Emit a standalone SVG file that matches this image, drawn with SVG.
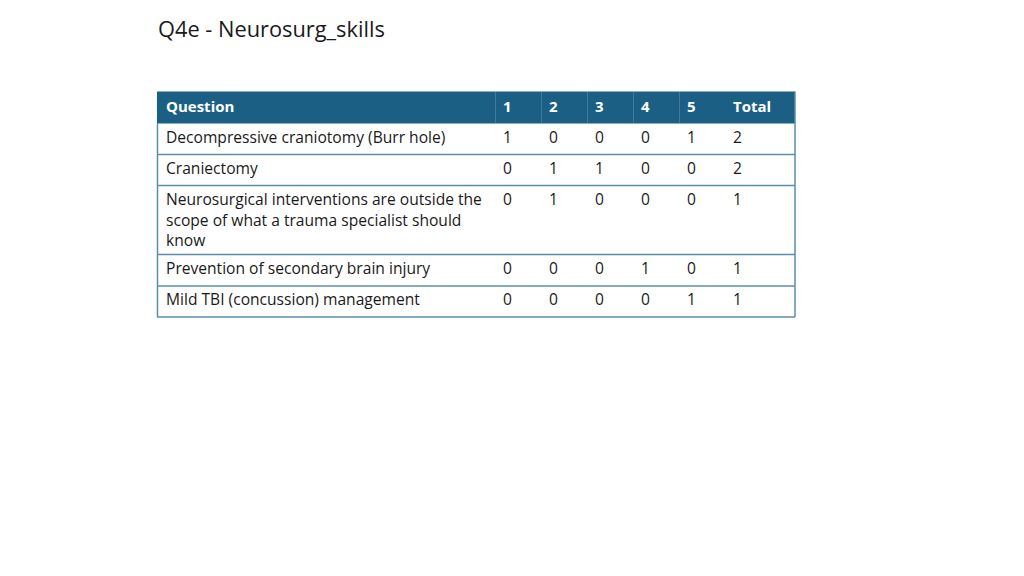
<svg xmlns="http://www.w3.org/2000/svg" width="1024" height="576" viewBox="0 0 1024 576">
<style>
.t{font-family:"Open Sans","Liberation Sans",sans-serif;font-size:15.6px;fill:#1a1a1a}
.h{font-family:"Open Sans","Liberation Sans",sans-serif;font-size:15px;font-weight:bold;fill:#ffffff}
.ln{stroke:#5b8eab;stroke-width:1.5}
.sep{stroke:#3f7a9c;stroke-width:1}
</style>
<rect width="1024" height="576" fill="#ffffff"/>
<text x="158" y="37" font-family="'Open Sans','Liberation Sans',sans-serif" font-size="21.8" fill="#1a1a1a">Q4e - Neurosurg_skills</text>
<g id="table">
<rect x="157" y="91.5" width="638" height="32" fill="#1b5f85"/>
<g id="header-seps">
<line class="sep" x1="495.5" y1="92" x2="495.5" y2="123"/>
<line class="sep" x1="541.5" y1="92" x2="541.5" y2="123"/>
<line class="sep" x1="587.5" y1="92" x2="587.5" y2="123"/>
<line class="sep" x1="633.5" y1="92" x2="633.5" y2="123"/>
<line class="sep" x1="679.5" y1="92" x2="679.5" y2="123"/>
</g>
<g id="grid">
<line class="ln" x1="157" y1="154.5" x2="795" y2="154.5"/>
<line class="ln" x1="157" y1="185.5" x2="795" y2="185.5"/>
<line class="ln" x1="157" y1="254.5" x2="795" y2="254.5"/>
<line class="ln" x1="157" y1="286" x2="795" y2="286"/>
<line class="ln" x1="157" y1="317" x2="795" y2="317"/>
<line class="ln" x1="157.5" y1="123" x2="157.5" y2="317"/>
<line class="ln" x1="795" y1="91.5" x2="795" y2="317"/>
</g>
<g id="head">
<text class="h" x="166" y="112">Question</text>
<text class="h" x="503" y="112">1</text>
<text class="h" x="549" y="112">2</text>
<text class="h" x="595" y="112">3</text>
<text class="h" x="641" y="112">4</text>
<text class="h" x="687" y="112">5</text>
<text class="h" x="733" y="112">Total</text>
</g>
<g id="row1">
<text class="t" x="166" y="143">Decompressive craniotomy (Burr hole)</text>
<text class="t" x="503" y="143">1</text><text class="t" x="549" y="143">0</text><text class="t" x="595" y="143">0</text><text class="t" x="641" y="143">0</text><text class="t" x="687" y="143">1</text><text class="t" x="733" y="143">2</text>
</g>
<g id="row2">
<text class="t" x="166" y="174">Craniectomy</text>
<text class="t" x="503" y="174">0</text><text class="t" x="549" y="174">1</text><text class="t" x="595" y="174">1</text><text class="t" x="641" y="174">0</text><text class="t" x="687" y="174">0</text><text class="t" x="733" y="174">2</text>
</g>
<g id="row3">
<text class="t" x="166" y="205">Neurosurgical interventions are outside the</text>
<text class="t" x="166" y="226">scope of what a trauma specialist should</text>
<text class="t" x="166" y="246">know</text>
<text class="t" x="503" y="205">0</text><text class="t" x="549" y="205">1</text><text class="t" x="595" y="205">0</text><text class="t" x="641" y="205">0</text><text class="t" x="687" y="205">0</text><text class="t" x="733" y="205">1</text>
</g>
<g id="row4">
<text class="t" x="166" y="274">Prevention of secondary brain injury</text>
<text class="t" x="503" y="274">0</text><text class="t" x="549" y="274">0</text><text class="t" x="595" y="274">0</text><text class="t" x="641" y="274">1</text><text class="t" x="687" y="274">0</text><text class="t" x="733" y="274">1</text>
</g>
<g id="row5">
<text class="t" x="166" y="305">Mild TBI (concussion) management</text>
<text class="t" x="503" y="305">0</text><text class="t" x="549" y="305">0</text><text class="t" x="595" y="305">0</text><text class="t" x="641" y="305">0</text><text class="t" x="687" y="305">1</text><text class="t" x="733" y="305">1</text>
</g>
</g>
</svg>
